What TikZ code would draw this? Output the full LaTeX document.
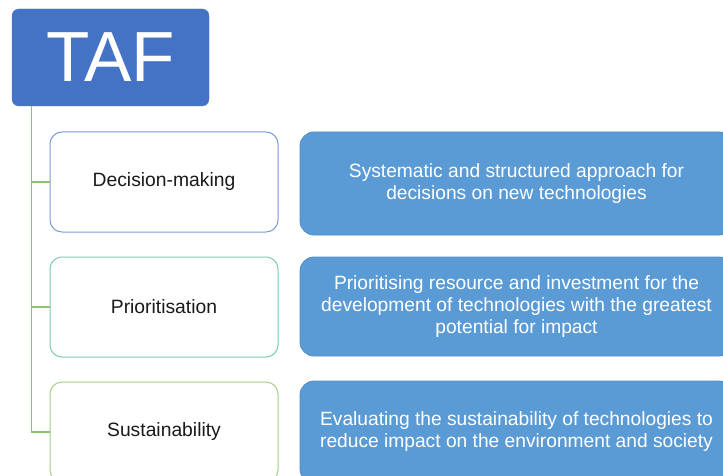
\documentclass[tikz,border=0pt]{standalone}
\usepackage{fontspec}
\setmainfont{Liberation Sans}
\definecolor{tafblue}{HTML}{4472C4}
\definecolor{descblue}{HTML}{5B9BD5}
\definecolor{descedge}{HTML}{4F8CC6}
\definecolor{edgeblue}{HTML}{7A9BDA}
\definecolor{edgeteal}{HTML}{7CCBB5}
\definecolor{edgegreen}{HTML}{A3CF88}
\definecolor{trunkgreen}{HTML}{8DC26F}
\definecolor{labeltext}{HTML}{1A1A1A}
\begin{document}
\begin{tikzpicture}[x=1pt,y=-1pt,
  headbox/.style={fill=tafblue,draw=tafblue,rounded corners=7pt,minimum width=197pt,minimum height=97pt,
    text=white,font=\fontsize{71}{78}\selectfont,inner sep=0pt},
  labelbox/.style={fill=white,line width=1pt,rounded corners=12pt,minimum width=228pt,minimum height=100pt,
    text=labeltext,font=\fontsize{19.3}{22}\selectfont,inner sep=0pt},
  descbox/.style={fill=descblue,draw=descedge,line width=0.8pt,rounded corners=14pt,minimum width=433pt,
    text=white,font=\fontsize{19.2}{22}\selectfont,align=center,inner sep=0pt},
  branch/.style={draw=trunkgreen,line width=1.1pt}]
\useasboundingbox (0,0) rectangle (723,476);
\clip (0,0) rectangle (723,476);
\fill[white] (0,0) rectangle (723,476);

\node[headbox] (taf) at (110.5,57.5) {TAF};

\node[labelbox,draw=edgeblue]  (dm)  at (164,182) {Decision-making};
\node[labelbox,draw=edgeteal]  (pr)  at (164,307) {Prioritisation};
\node[labelbox,draw=edgegreen] (su)  at (164,432) {Sustainability};

\node[descbox,minimum height=103pt] (dmd) at (516.5,183.5)
  {Systematic and structured approach for\\decisions on new technologies};
\node[descbox,minimum height=99pt] (prd) at (516.5,306.5)
  {Prioritising resource and investment for the\\development of technologies with the greatest\\potential for impact};
\node[descbox,minimum height=102pt] (sud) at (516.5,432)
  {Evaluating the sustainability of technologies to\\reduce impact on the environment and society};

\coordinate (trunk) at ([xshift=20pt]taf.south west);
\draw[branch] (trunk) |- (dm.west);
\draw[branch] (trunk) |- (pr.west);
\draw[branch] (trunk) |- (su.west);
\end{tikzpicture}
\end{document}
